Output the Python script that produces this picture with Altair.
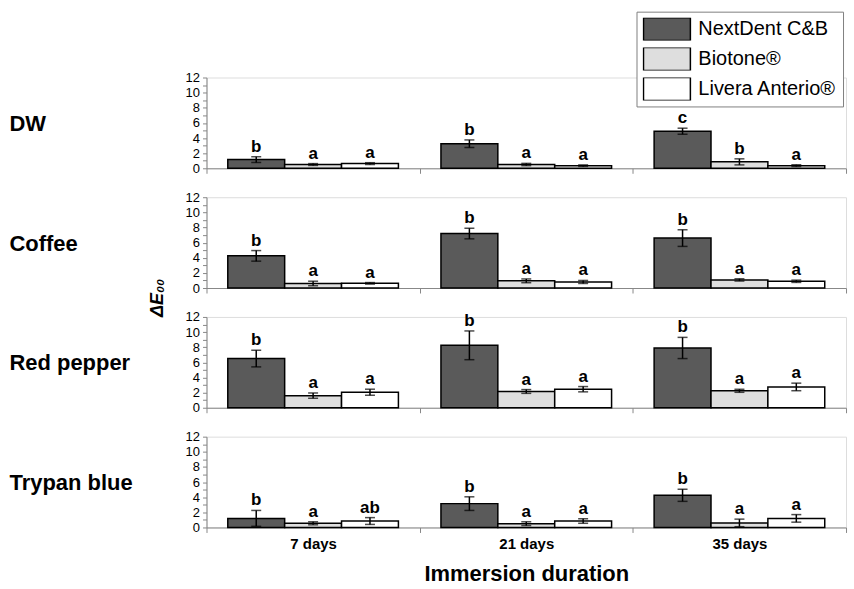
import altair as alt
import pandas as pd

stains = ["DW", "Coffee", "Red pepper", "Trypan blue"]
days = ["7 days", "21 days", "35 days"]
materials = ["NextDent C&B", "Biotone®", "Livera Anterio®"]
colors = ["#5a5a5a", "#dedede", "#ffffff"]
y_ticks = [0, 1, 2, 3, 4, 5, 6, 7, 8, 9, 10, 11, 12]
y_label = "ΔE₀₀"
x_title = "Immersion duration"

# values listed day by day (7, 21, 35 days), each as NextDent, Biotone, Livera
dw_mean = [1.15, 0.5, 0.62, 3.25, 0.5, 0.35, 4.9, 0.85, 0.35]
dw_sd = [0.38, 0.12, 0.12, 0.5, 0.15, 0.1, 0.4, 0.4, 0.12]
dw_letter = ["b", "a", "a", "b", "a", "a", "c", "b", "a"]

coffee_mean = [4.25, 0.6, 0.62, 7.2, 0.95, 0.8, 6.6, 1.07, 0.89]
coffee_sd = [0.7, 0.3, 0.1, 0.7, 0.25, 0.2, 1.1, 0.15, 0.15]
coffee_letter = ["b", "a", "a", "b", "a", "a", "b", "a", "a"]

pepper_mean = [6.5, 1.6, 2.05, 8.25, 2.15, 2.45, 7.9, 2.24, 2.75]
pepper_sd = [1.1, 0.35, 0.4, 1.9, 0.25, 0.35, 1.4, 0.2, 0.5]
pepper_letter = ["b", "a", "a", "b", "a", "a", "b", "a", "a"]

trypan_mean = [1.2, 0.55, 0.85, 3.15, 0.5, 0.85, 4.25, 0.6, 1.2]
trypan_sd = [1.05, 0.2, 0.45, 0.9, 0.25, 0.3, 0.8, 0.5, 0.5]
trypan_letter = ["b", "a", "ab", "b", "a", "a", "b", "a", "a"]

series = {
    "DW": (dw_mean, dw_sd, dw_letter),
    "Coffee": (coffee_mean, coffee_sd, coffee_letter),
    "Red pepper": (pepper_mean, pepper_sd, pepper_letter),
    "Trypan blue": (trypan_mean, trypan_sd, trypan_letter),
}

rows = []
for s in stains:
    m, sd, let = series[s]
    i = 0
    for d in days:
        for mat in materials:
            rows.append({"stain": s, "day": d, "material": mat, "mean": m[i],
                         "lo": m[i] - sd[i], "hi": m[i] + sd[i], "letter": let[i]})
            i += 1
df = pd.DataFrame(rows)

FONT = "Liberation Sans"
W, H = 641, 91


def panel(stain, last):
    d = df[df.stain == stain]
    x_axis = alt.Axis(
        title=x_title if last else None,
        labels=last,
        tickBand="extent",
        tickSize=5,
        labelFontSize=15,
        labelFontWeight="bold",
        labelPadding=4,
        labelAngle=0,
        titleFontSize=22,
        titleFontWeight="bold",
        titlePadding=12,
    )
    y_axis = alt.Axis(
        values=y_ticks, labelExpr="datum.value % 2 == 0 ? datum.label : ''", labelOverlap=False,
        tickCount=13, title=stain, titleAngle=0, titleAlign="left", titleX=-198, titleY=46,
        titleBaseline="middle", titleFontSize=22, titleFontWeight="bold", labelFontSize=13,
        tickSize=4, labelPadding=3, grid=False)
    yscale = alt.Scale(domain=[0, 12], nice=False, zero=True)
    base = alt.Chart(d).encode(
        x=alt.X("day:N", sort=days, scale=alt.Scale(domain=days, paddingInner=0, paddingOuter=0), axis=x_axis),
        xOffset=alt.XOffset("material:N", sort=materials,
                            scale=alt.Scale(domain=materials, paddingInner=0, paddingOuter=0.374)),
    )
    bars = base.mark_bar(stroke="black", strokeWidth=1.5).encode(
        y=alt.Y("mean:Q", scale=yscale, axis=y_axis),
        color=alt.Color("material:N", sort=materials, scale=alt.Scale(domain=materials, range=colors),
                        legend=alt.Legend(
                            title=None, orient="none", legendX=431, legendY=-66,
                            symbolType="M-1,-0.49H1V0.49H-1Z", symbolSize=2209,
                            symbolStrokeColor="black", symbolStrokeWidth=1.5,
                            labelFontSize=20, labelFont=FONT, labelColor="black",
                            strokeColor="#808080", fillColor="white", padding=6,
                            rowPadding=7, labelOffset=7, clipHeight=23)),
    )
    rule = base.mark_rule(color="black", strokeWidth=1.5).encode(
        y=alt.Y("lo:Q", scale=yscale, axis=y_axis), y2="hi:Q")
    cap_lo = base.mark_tick(color="black", size=10, thickness=1.5).encode(
        y=alt.Y("lo:Q", scale=yscale, axis=y_axis))
    cap_hi = base.mark_tick(color="black", size=10, thickness=1.5).encode(
        y=alt.Y("hi:Q", scale=yscale, axis=y_axis))
    text = base.mark_text(baseline="alphabetic", dy=-5, fontSize=17, fontWeight="bold", font=FONT,
                          color="black").encode(y=alt.Y("hi:Q", scale=yscale, axis=y_axis), text="letter:N")
    layers = [bars, rule, cap_lo, cap_hi, text]
    if stain == "Coffee":
        lab = alt.Chart(pd.DataFrame({"label": [y_label]})).mark_text(
            angle=270, fontSize=18, fontStyle="italic", fontWeight="bold", font=FONT,
            color="black", align="center", baseline="middle").encode(
            x=alt.value(-49), y=alt.value(101), text="label:N")
        layers.append(lab)
    return alt.layer(*layers).properties(width=W, height=H)


chart = alt.vconcat(*[panel(s, s == stains[-1]) for s in stains], spacing=29, bounds="flush").properties(
    padding={"left": 8, "top": 10, "right": 7, "bottom": 4}
).configure_view(stroke=None).configure_axis(
    domainColor="black", tickColor="black", labelColor="black", titleColor="black",
    domainWidth=1.5, tickWidth=1.5, labelFont=FONT, titleFont=FONT
).configure(font=FONT)

chart.save("out.html", embed_options={"renderer": "svg", "actions": False})
